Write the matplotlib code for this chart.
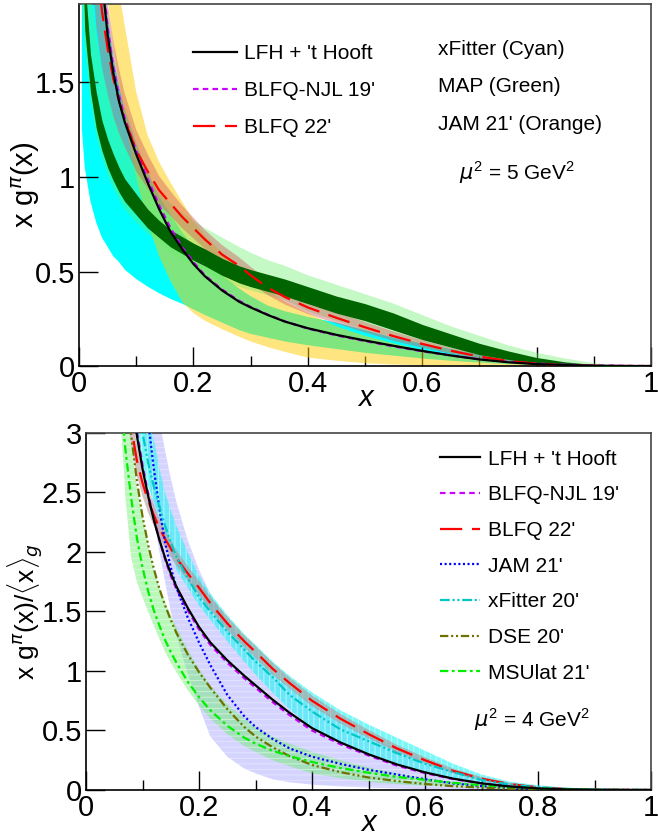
import numpy as np
import matplotlib
matplotlib.use("Agg")
import matplotlib.pyplot as plt
from matplotlib.ticker import MultipleLocator

plt.rcParams['font.family'] = 'Liberation Sans'
plt.rcParams['mathtext.fontset'] = 'custom'
plt.rcParams['mathtext.rm'] = 'Liberation Sans'
plt.rcParams['mathtext.it'] = 'DejaVu Sans:italic'
plt.rcParams['lines.scale_dashes'] = False
plt.rcParams['hatch.linewidth'] = 0.6

# ---------------- top panel data (mu^2 = 5 GeV^2) ----------------
x_top = [0.005, 0.01, 0.02, 0.03, 0.04, 0.05, 0.06, 0.07, 0.08, 0.1, 0.12, 0.14, 0.16, 0.18,
         0.2, 0.22, 0.25, 0.28, 0.3, 0.33, 0.36, 0.4, 0.45, 0.5, 0.55, 0.6, 0.65, 0.7,
         0.75, 0.8, 0.85, 0.9, 0.95, 1.0]

lfh_top = [8.0, 5.5, 3.4, 2.6, 2.05, 1.75, 1.55, 1.4, 1.29, 1.12, 0.97, 0.83, 0.71, 0.62,
           0.54, 0.475, 0.4, 0.34, 0.31, 0.27, 0.235, 0.2, 0.165, 0.135, 0.107, 0.08, 0.056, 0.035,
           0.02, 0.01, 0.005, 0.002, 0.0005, 0.0]
njl_top = [8.0, 5.6, 3.5, 2.65, 2.1, 1.79, 1.58, 1.43, 1.31, 1.14, 0.99, 0.85, 0.73, 0.63,
           0.55, 0.48, 0.405, 0.345, 0.313, 0.272, 0.236, 0.198, 0.162, 0.132, 0.104, 0.078, 0.056, 0.036,
           0.022, 0.013, 0.007, 0.003, 0.001, 0.0]
blfq_top = [6.0, 4.3, 2.8, 2.2, 1.88, 1.68, 1.52, 1.4, 1.3, 1.14, 1.03, 0.93, 0.86, 0.79,
            0.73, 0.67, 0.59, 0.53, 0.48, 0.415, 0.365, 0.31, 0.255, 0.205, 0.158, 0.117, 0.081, 0.05,
            0.027, 0.012, 0.004, 0.001, 0.0002, 0.0]
blfq_top_err = [1.5, 1.0, 0.6, 0.4, 0.3, 0.24, 0.2, 0.17, 0.14, 0.11, 0.09, 0.075, 0.065, 0.06,
                0.055, 0.05, 0.05, 0.045, 0.045, 0.04, 0.04, 0.035, 0.03, 0.028, 0.025, 0.02, 0.016, 0.012,
                0.008, 0.005, 0.003, 0.001, 0.0, 0.0]

xfit_top_lo = [1.25, 1.05, 0.87, 0.76, 0.68, 0.63, 0.58, 0.55, 0.51, 0.46, 0.42, 0.385, 0.355, 0.33,
               0.3, 0.27, 0.23, 0.19, 0.17, 0.15, 0.13, 0.11, 0.09, 0.07, 0.055, 0.04, 0.028, 0.018,
               0.01, 0.005, 0.002, 0.001, 0.0, 0.0]
xfit_top_hi = [8.0, 5.6, 3.5, 2.7, 2.15, 1.85, 1.63, 1.48, 1.36, 1.18, 1.03, 0.9, 0.8, 0.71,
               0.63, 0.56, 0.48, 0.41, 0.37, 0.32, 0.29, 0.26, 0.23, 0.19, 0.15, 0.12, 0.09, 0.06,
               0.035, 0.018, 0.008, 0.003, 0.001, 0.0]

jam_top_lo = [6.0, 4.5, 3.2, 2.6, 2.2, 1.95, 1.7, 1.5, 1.3, 1.0, 0.76, 0.58, 0.45, 0.34,
              0.28, 0.24, 0.195, 0.155, 0.13, 0.1, 0.075, 0.045, 0.028, 0.015, 0.008, 0.004, 0.002, 0.001,
              0.0, 0.0, 0.0, 0.0, 0.0, 0.0]
jam_top_hi = [10.0, 7.0, 4.5, 3.5, 2.9, 2.5, 2.2, 1.98, 1.8, 1.45, 1.22, 1.08, 0.97, 0.87,
              0.77, 0.69, 0.6, 0.52, 0.47, 0.4, 0.34, 0.28, 0.21, 0.16, 0.12, 0.085, 0.06, 0.04,
              0.025, 0.013, 0.006, 0.002, 0.0, 0.0]

map_wide_lo = [1.9, 1.7, 1.4, 1.22, 1.1, 1.01, 0.94, 0.88, 0.83, 0.76, 0.7, 0.65, 0.6, 0.56,
               0.53, 0.5, 0.455, 0.42, 0.4, 0.375, 0.35, 0.29, 0.24, 0.19, 0.15, 0.11, 0.07, 0.04,
               0.02, 0.008, 0.002, 0.0, 0.0, 0.0]
map_wide_hi = [3.2, 2.4, 2.0, 1.75, 1.58, 1.45, 1.34, 1.25, 1.18, 1.08, 0.99, 0.92, 0.86, 0.81,
               0.77, 0.73, 0.68, 0.63, 0.6, 0.56, 0.53, 0.48, 0.43, 0.38, 0.33, 0.27, 0.21, 0.16,
               0.11, 0.07, 0.04, 0.015, 0.004, 0.0]
map_core_lo = [2.3, 1.78, 1.45, 1.26, 1.14, 1.05, 0.98, 0.92, 0.87, 0.8, 0.73, 0.68, 0.63, 0.595,
               0.56, 0.53, 0.48, 0.44, 0.42, 0.395, 0.37, 0.33, 0.28, 0.24, 0.19, 0.14, 0.1, 0.06,
               0.035, 0.013, 0.004, 0.001, 0.0, 0.0]
map_core_hi = [2.7, 2.05, 1.65, 1.45, 1.3, 1.2, 1.12, 1.05, 0.99, 0.91, 0.83, 0.77, 0.72, 0.685,
               0.65, 0.62, 0.57, 0.53, 0.51, 0.485, 0.46, 0.42, 0.37, 0.33, 0.28, 0.22, 0.17, 0.12,
               0.08, 0.045, 0.022, 0.008, 0.002, 0.0]

# ---------------- bottom panel data (mu^2 = 4 GeV^2, normalised) ----------------
x_bot = [0.06, 0.07, 0.08, 0.09, 0.1, 0.11, 0.12, 0.13, 0.14, 0.15, 0.16, 0.18, 0.2, 0.22,
         0.25, 0.28, 0.3, 0.33, 0.36, 0.4, 0.45, 0.5, 0.55, 0.6, 0.65, 0.7, 0.75, 0.8,
         0.85, 0.9, 0.95, 1.0]

lfh_bot = [4.5, 3.85, 3.35, 2.98, 2.7, 2.47, 2.27, 2.1, 1.95, 1.82, 1.71, 1.53, 1.37, 1.24,
           1.09, 0.96, 0.88, 0.76, 0.65, 0.52, 0.4, 0.3, 0.215, 0.148, 0.095, 0.056, 0.029, 0.013,
           0.005, 0.0015, 0.0003, 0.0]
njl_bot = [4.55, 3.9, 3.4, 3.02, 2.73, 2.49, 2.28, 2.1, 1.94, 1.8, 1.69, 1.51, 1.35, 1.22,
           1.07, 0.94, 0.86, 0.74, 0.63, 0.5, 0.385, 0.29, 0.205, 0.142, 0.092, 0.056, 0.031, 0.015,
           0.007, 0.003, 0.001, 0.0]
blfq_bot = [4.0, 3.45, 3.05, 2.77, 2.58, 2.43, 2.31, 2.2, 2.11, 2.03, 1.95, 1.82, 1.7, 1.57,
            1.4, 1.25, 1.16, 1.02, 0.9, 0.75, 0.6, 0.47, 0.35, 0.25, 0.16, 0.095, 0.05, 0.022,
            0.008, 0.002, 0.0005, 0.0]
blfq_bot_err = [0.25, 0.2, 0.16, 0.13, 0.11, 0.1, 0.09, 0.08, 0.075, 0.07, 0.065, 0.06, 0.06, 0.055,
                0.055, 0.05, 0.05, 0.05, 0.045, 0.045, 0.04, 0.035, 0.03, 0.025, 0.02, 0.015, 0.01, 0.006,
                0.003, 0.001, 0.0, 0.0]
jam_bot = [6.0, 5.3, 4.6, 4.0, 3.5, 3.1, 2.7, 2.36, 2.08, 1.87, 1.7, 1.45, 1.24, 1.05,
           0.8, 0.62, 0.53, 0.43, 0.35, 0.28, 0.22, 0.17, 0.13, 0.09, 0.055, 0.033, 0.018, 0.008,
           0.003, 0.001, 0.0002, 0.0]
jam_bot_lo = [6.0, 5.0, 4.2, 3.6, 3.2, 2.7, 2.3, 2.0, 1.75, 1.5, 1.3, 0.98, 0.7, 0.45,
              0.28, 0.18, 0.14, 0.09, 0.065, 0.045, 0.03, 0.02, 0.013, 0.008, 0.005, 0.003, 0.001, 0.0,
              0.0, 0.0, 0.0, 0.0]
jam_bot_hi = [7.0, 6.2, 5.4, 4.6, 4.0, 3.55, 3.2, 3.1, 2.85, 2.62, 2.42, 2.1, 1.85, 1.65,
              1.42, 1.22, 1.12, 0.98, 0.86, 0.72, 0.57, 0.45, 0.34, 0.25, 0.17, 0.11, 0.06, 0.03,
              0.012, 0.004, 0.001, 0.0]
xfit_bot = [5.2, 4.4, 3.8, 3.3, 3.0, 2.75, 2.55, 2.38, 2.22, 2.08, 1.96, 1.78, 1.62, 1.5,
            1.33, 1.18, 1.08, 0.95, 0.8, 0.66, 0.51, 0.41, 0.31, 0.22, 0.15, 0.085, 0.045, 0.022,
            0.009, 0.003, 0.0005, 0.0]
xfit_bot_lo = [5.0, 4.4, 3.5, 2.9, 2.7, 2.55, 2.42, 2.28, 2.15, 2.0, 1.85, 1.7, 1.55, 1.43,
               1.25, 1.08, 0.97, 0.82, 0.68, 0.52, 0.4, 0.3, 0.22, 0.155, 0.1, 0.06, 0.032, 0.015,
               0.006, 0.002, 0.0005, 0.0]
xfit_bot_hi = [5.0, 4.5, 4.0, 3.5, 3.3, 3.1, 2.95, 2.7, 2.5, 2.35, 2.22, 2.0, 1.8, 1.65,
               1.47, 1.31, 1.22, 1.08, 0.96, 0.82, 0.67, 0.55, 0.44, 0.33, 0.22, 0.13, 0.07, 0.04,
               0.02, 0.006, 0.001, 0.0]
dse_bot = [4.1, 3.45, 2.98, 2.6, 2.3, 2.06, 1.86, 1.69, 1.55, 1.43, 1.32, 1.14, 0.99, 0.86,
           0.68, 0.53, 0.45, 0.36, 0.285, 0.21, 0.15, 0.105, 0.075, 0.05, 0.032, 0.02, 0.011, 0.005,
           0.002, 0.0007, 0.0001, 0.0]
msu_bot = [3.35, 2.85, 2.45, 2.12, 1.87, 1.67, 1.51, 1.38, 1.26, 1.16, 1.07, 0.91, 0.78, 0.67,
           0.54, 0.44, 0.39, 0.33, 0.285, 0.235, 0.185, 0.145, 0.11, 0.085, 0.06, 0.04, 0.025, 0.013,
           0.006, 0.002, 0.0005, 0.0]
msu_bot_lo = [3.2, 2.45, 1.95, 1.75, 1.62, 1.5, 1.38, 1.27, 1.16, 1.07, 0.99, 0.84, 0.71, 0.6,
              0.47, 0.37, 0.32, 0.25, 0.2, 0.14, 0.1, 0.07, 0.05, 0.035, 0.025, 0.015, 0.008, 0.004,
              0.001, 0.0, 0.0, 0.0]
msu_bot_hi = [4.2, 3.4, 2.9, 2.55, 2.3, 2.05, 1.85, 1.7, 1.58, 1.47, 1.37, 1.18, 1.02, 0.88,
              0.72, 0.6, 0.53, 0.45, 0.39, 0.32, 0.25, 0.19, 0.14, 0.1, 0.07, 0.045, 0.028, 0.015,
              0.007, 0.003, 0.001, 0.0]

x_ticks = [0, 0.2, 0.4, 0.6, 0.8, 1.0]
x_ticklabels = ['0', '0.2', '0.4', '0.6', '0.8', '1']
y_ticks_top = [0, 0.5, 1.0, 1.5]
y_ticklabels_top = ['0', '0.5', '1', '1.5']
y_ticks_bot = [0, 0.5, 1.0, 1.5, 2.0, 2.5, 3.0]
y_ticklabels_bot = ['0', '0.5', '1', '1.5', '2', '2.5', '3']

# line styles (ROOT-like)
st_lfh = dict(color='black', lw=1.6, ls='-')
st_njl = dict(color='#cc00ff', lw=1.6, dashes=(4, 3))
st_blfq = dict(color='#ff0000', lw=1.6, dashes=(16, 7))
st_jam = dict(color='#0000ff', lw=1.6, dashes=(1.5, 1.8))
st_xfit = dict(color='#00c8c8', lw=1.6, dashes=(7, 2, 1.5, 2, 1.5, 2))
st_dse = dict(color='#707000', lw=1.6, dashes=(6, 2, 1.5, 2, 1.5, 2))
st_msu = dict(color='#00ee00', lw=1.6, dashes=(6, 2.5, 2, 2.5))

fig = plt.figure(figsize=(6.58, 8.38), dpi=100)
ax1 = fig.add_axes([0.1201, 0.5632, 0.8693, 0.432])
ax2 = fig.add_axes([0.1307, 0.0573, 0.8587, 0.426])


def style_axes(ax, yticks, ylabels, ymax):
    ax.set_xlim(0, 1)
    ax.set_ylim(0, ymax)
    ax.set_xticks(x_ticks)
    ax.set_xticklabels(x_ticklabels)
    ax.set_yticks(yticks)
    ax.set_yticklabels(ylabels)
    ax.xaxis.set_minor_locator(MultipleLocator(0.1))
    ax.tick_params(which='major', direction='in', length=14, width=1.0, labelsize=21,
                   top=False, right=False, pad=3, colors='black')
    ax.tick_params(which='minor', direction='in', length=7, width=1.0, top=False, right=False)
    for s in ax.spines.values():
        s.set_linewidth(1.2)
        s.set_color('#444444')
    ax.spines['left'].set_color('black')
    ax.spines['bottom'].set_color('black')


# ---------- top panel ----------
ax = ax1
xt = np.array(x_top)
ax.fill_between(xt, xfit_top_lo, xfit_top_hi, color='#00ffff', lw=0, zorder=1)
ax.fill_between(xt, jam_top_lo, jam_top_hi, facecolor='#ffcc00', alpha=0.5, lw=0, zorder=2)
ax.fill_between(xt, map_wide_lo, map_wide_hi, facecolor='#66ee66', alpha=0.38, lw=0, zorder=3)
ax.fill_between(xt, np.array(blfq_top) - np.array(blfq_top_err),
                np.array(blfq_top) + np.array(blfq_top_err),
                facecolor='#d06060', alpha=0.45, lw=0, zorder=4)
ax.fill_between(xt, map_core_lo, map_core_hi, color='#006400', lw=0, zorder=5)
h1, = ax.plot(xt, lfh_top, zorder=8, **st_lfh)
h2, = ax.plot(xt, njl_top, zorder=7, **st_njl)
h3, = ax.plot(xt, blfq_top, zorder=7, **st_blfq)
style_axes(ax, y_ticks_top, y_ticklabels_top, 1.915)
ax.set_ylabel('x g$^{\\pi}$(x)', fontsize=21)
ax.yaxis.set_label_coords(-0.065, 0.5)
ax.set_xlabel('x', fontsize=21, fontstyle='italic')
ax.xaxis.set_label_coords(0.5, -0.05)
ax.legend([h1, h2, h3], ["LFH + 't Hooft", "BLFQ-NJL 19'", "BLFQ 22'"],
          loc='upper left', bbox_to_anchor=(0.2, 0.89), frameon=False,
          fontsize=15, handlelength=2.1, handletextpad=0.35, labelspacing=0.87,
          borderpad=0, borderaxespad=0)
ax.text(0.628, 0.873, 'xFitter (Cyan)', transform=ax.transAxes, fontsize=15, va='center')
ax.text(0.628, 0.773, 'MAP (Green)', transform=ax.transAxes, fontsize=15, va='center')
ax.text(0.628, 0.666, "JAM 21' (Orange)", transform=ax.transAxes, fontsize=15, va='center')
ax.text(0.766, 0.533, '$\\mu^{2}$ = 5 GeV$^{2}$', transform=ax.transAxes, fontsize=15,
        ha='center', va='center')

# ---------- bottom panel ----------
ax = ax2
xb = np.array(x_bot)
ax.fill_between(xb, jam_bot_lo, jam_bot_hi, facecolor='#9a9aff', alpha=0.42,
                edgecolor='white', hatch='---', lw=0, zorder=1)
ax.fill_between(xb, msu_bot_lo, msu_bot_hi, facecolor='#66ee66', alpha=0.45,
                edgecolor='white', hatch='---', lw=0, zorder=2)
ax.fill_between(xb, xfit_bot_lo, xfit_bot_hi, facecolor='#22f4f4', alpha=0.6,
                edgecolor='white', hatch='|||', lw=0, zorder=3)
ax.fill_between(xb, np.array(blfq_bot) - np.array(blfq_bot_err),
                np.array(blfq_bot) + np.array(blfq_bot_err),
                facecolor='#b09090', alpha=0.55, lw=0, zorder=4)
g1, = ax.plot(xb, lfh_bot, zorder=9, **st_lfh)
g2, = ax.plot(xb, njl_bot, zorder=8, **st_njl)
g3, = ax.plot(xb, blfq_bot, zorder=8, **st_blfq)
g4, = ax.plot(xb, jam_bot, zorder=8, **st_jam)
g5, = ax.plot(xb, xfit_bot, zorder=8, **st_xfit)
g6, = ax.plot(xb, dse_bot, zorder=8, **st_dse)
g7, = ax.plot(xb, msu_bot, zorder=8, **st_msu)
style_axes(ax, y_ticks_bot, y_ticklabels_bot, 3.0)
ax.set_ylabel('x g$^{\\pi}$(x)/$\\langle$x$\\rangle_{g}$', fontsize=19)
ax.yaxis.set_label_coords(-0.073, 0.5)
ax.set_xlabel('x', fontsize=21, fontstyle='italic')
ax.xaxis.set_label_coords(0.5, -0.053)
ax.legend([g1, g2, g3, g4, g5, g6, g7],
          ["LFH + 't Hooft", "BLFQ-NJL 19'", "BLFQ 22'", "JAM 21'", "xFitter 20'",
           "DSE 20'", "MSUlat 21'"],
          loc='upper left', bbox_to_anchor=(0.6265, 0.953), frameon=False,
          fontsize=15, handlelength=1.9, handletextpad=0.4, labelspacing=0.8,
          borderpad=0, borderaxespad=0)
ax.text(0.79, 0.196, '$\\mu^{2}$ = 4 GeV$^{2}$', transform=ax.transAxes, fontsize=15,
        ha='center', va='center')

fig.savefig('out.png', dpi=100)
